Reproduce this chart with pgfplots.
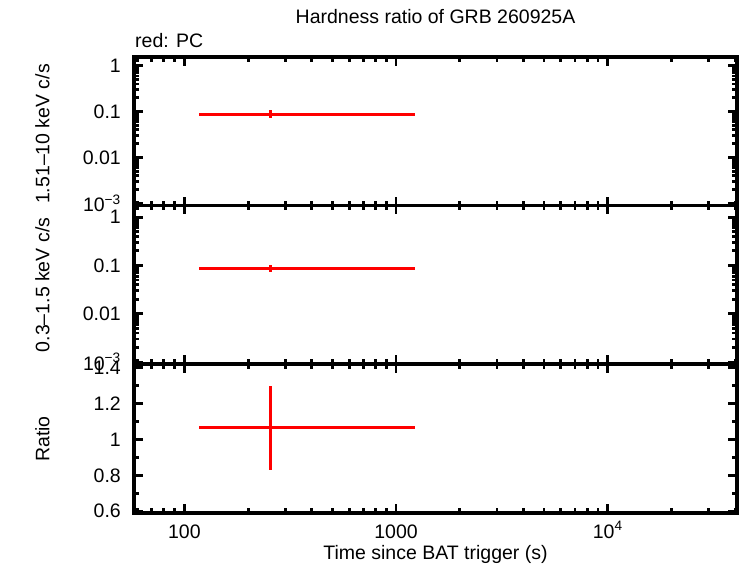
\documentclass[border=0pt]{standalone}
\usepackage{fontspec}
\setmainfont{Liberation Sans}
\usepackage{pgfplots}
\pgfplotsset{compat=1.18}
\newcommand\bigf{\fontsize{19.5}{23}\selectfont}
\pgfplotsset{every axis/.append style={
    scale only axis, width=603pt,
    xmin=57.8, xmax=40800,
    axis line style={line width=3.5pt},
    every tick/.style={black, line width=2.8pt},
    major tick length=9pt, minor tick length=5pt,
    tick align=inside, xtick pos=both, ytick pos=both,
    xtick={100,1000,10000},
    minor xtick={60,70,80,90,200,300,400,500,600,700,800,900,2000,3000,4000,5000,6000,7000,8000,9000,20000,30000,40000},
    font=\bigf,
    /pgf/number format/assume math mode=true,
    yticklabel style={anchor=east, inner sep=0pt, xshift=-13pt, font=\bigf},
    xticklabel style={anchor=base, inner sep=0pt, yshift=-25pt, font=\bigf},
    anchor=south west,
}}
\begin{document}
\begin{tikzpicture}[x=1pt,y=1pt]
\useasboundingbox (0pt,0pt) rectangle (741pt,565pt);
% panel 1
\begin{axis}[xmode=log, ymode=log, at={(134pt,359.5pt)}, height=148.5pt, ymin=8.9e-4, ymax=1.56,
    ytick={0.001,0.01,0.1,1},
    yticklabels={10\textsuperscript{\textminus 3},0.01,0.1,1},
    minor ytick={0.002,0.003,0.004,0.005,0.006,0.007,0.008,0.009,0.02,0.03,0.04,0.05,0.06,0.07,0.08,0.09,0.2,0.3,0.4,0.5,0.6,0.7,0.8,0.9},
    xticklabels={}]
\addplot[red, mark=none, draw=none, error bars/.cd, x dir=both, x explicit, y dir=both, y explicit, error mark=none, error bar style={red, line width=3pt, solid}]
  coordinates {(254.7,0.088) += (974,0.018) -= (137,0.014)};
\end{axis}
% panel 2
\begin{axis}[xmode=log, ymode=log, at={(134pt,201pt)}, height=158.5pt, ymin=9.1e-4, ymax=1.74,
    ytick={0.001,0.01,0.1,1},
    yticklabels={10\textsuperscript{\textminus 3},0.01,0.1,1},
    minor ytick={0.002,0.003,0.004,0.005,0.006,0.007,0.008,0.009,0.02,0.03,0.04,0.05,0.06,0.07,0.08,0.09,0.2,0.3,0.4,0.5,0.6,0.7,0.8,0.9},
    xticklabels={}]
\addplot[red, mark=none, draw=none, error bars/.cd, x dir=both, x explicit, y dir=both, y explicit, error mark=none, error bar style={red, line width=3pt, solid}]
  coordinates {(254.7,0.087) += (974,0.016) -= (137,0.013)};
\end{axis}
% panel 3
\begin{axis}[xmode=log, at={(134pt,52pt)}, height=149pt, ymin=0.59, ymax=1.42,
  ytick={0.6,0.8,1,1.2,1.4}, yticklabels={0.6,0.8,1,1.2,1.4},
  minor ytick={0.7,0.9,1.1,1.3},
  xticklabels={100,1000,10\textsuperscript{4}}]
\addplot[red, mark=none, draw=none, error bars/.cd, x dir=both, x explicit, y dir=both, y explicit, error mark=none, error bar style={red, line width=3pt, solid}]
  coordinates {(254.7,1.064) += (974,0.231) -= (137,0.237)};
\end{axis}
\node[anchor=base, inner sep=0pt, font=\bigf] at (435.5pt,541pt) {Hardness ratio of GRB 260925A};
\node[anchor=base west, inner sep=0pt, font=\bigf] at (135pt,517pt) {red: PC};
\node[anchor=base, inner sep=0pt, font=\bigf] at (435.5pt,6pt) {Time since BAT trigger (s)};
\node[rotate=90, inner sep=0pt, font=\bigf] at (42.5pt,431pt) {1.51\textendash10 keV c/s};
\node[rotate=90, inner sep=0pt, font=\bigf] at (42.5pt,280pt) {0.3\textendash1.5 keV c/s};
\node[rotate=90, inner sep=0pt, font=\bigf] at (42.5pt,126pt) {Ratio};
\end{tikzpicture}
\end{document}
